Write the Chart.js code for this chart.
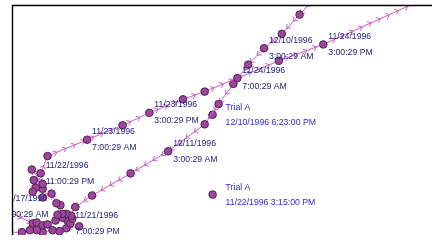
<!DOCTYPE html>
<html>
<head>
<meta charset="utf-8">
<script src="https://cdn.jsdelivr.net/npm/chart.js@4.4.0/dist/chart.umd.min.js"></script>
<style>
  html, body { margin: 0; padding: 0; background: #fff; }
  #wrap { width: 437px; height: 240px; }
</style>
</head>
<body>
<div id="wrap"><canvas id="trackChart"></canvas></div>
<script>
// outbound track (11/17 -> 11/24), plot units
const outX = [-1, 33, 37, 43, 48, 56, 63, 71, 73, 72, 67, 63, 58, 61, 57, 52, 43, 43, 36, 33, 34, 43, 32, 41, 48, 88, 124, 151, 185, 207, 240, 282, 327, 450];
const outY = [211, 228, 227, 230, 229, 225, 222, 228, 223, 220, 218, 218, 219, 209, 207, 197, 201, 192, 191, 195, 183, 187, 172, 176, 158, 141, 126, 113, 99, 91, 77, 59, 42, -15];

// return track (12/10 -> 12/11)
const backX = [321, 303, 285, 267, 251, 236, 221, 207, 170, 132, 93, 76, 68, 80, 67, 60, 53, 43, 37, 30, 22, -20];
const backY = [-9, 11, 31, 46, 63, 83, 104, 125, 153, 176, 199, 211, 225, 231, 233, 236, 235, 237, 235, 235, 237, 238];

// Trial A markers
const trialX = [215, 215];
const trialY = [115, 198];
const trialText = ['12/10/1996 6:23:00 PM', '11/22/1996 3:15:00 PM'];

// time stamps: which track, which point, and the two lines
const stampTrack = [0, 0, 0, 0, 0, 0, 0, 1, 1];
const stampIndex = [0, 7, 23, 25, 27, 30, 32, 3, 8];
const stampDate = ['11/17/1996', '11/21/1996', '11/22/1996', '11/23/1996', '11/23/1996', '11/24/1996', '11/24/1996', '12/10/1996', '12/11/1996'];
const stampTime = ['7:00:29 AM', '7:00:29 PM', '11:00:29 PM', '7:00:29 AM', '3:00:29 PM', '7:00:29 AM', '3:00:29 PM', '3:00:29 AM', '3:00:29 AM'];

function toPoints(xs, ys) {
    return xs.map(function (x, i) { return { x: x, y: ys[i] }; });
}

const lineColor = '#c85fc8';
const dotFill = '#a044a0';
const dotEdge = '#4a264a';

// little arrow heads along each track, pointing the way it travels
const arrowPlugin = {
    id: 'arrows',
    beforeDatasetsDraw(chart) {
        const ctx = chart.ctx;
        const area = chart.chartArea;
        ctx.save();
        ctx.beginPath();
        ctx.rect(area.left, area.top, area.right - area.left, area.bottom - area.top);
        ctx.clip();
        ctx.strokeStyle = lineColor;
        ctx.lineWidth = 1;
        chart.data.datasets.forEach(function (ds, di) {
            if (!ds.arrowGap) return;
            const pts = chart.getDatasetMeta(di).data;
            let pos = ds.arrowGap / 2;
            for (let i = 1; i < pts.length; i++) {
                const x0 = pts[i - 1].x, y0 = pts[i - 1].y;
                const dx = pts[i].x - x0, dy = pts[i].y - y0;
                const len = Math.hypot(dx, dy);
                if (len === 0) continue;
                const ux = dx / len, uy = dy / len;
                while (pos < len) {
                    const tx = x0 + ux * pos, ty = y0 + uy * pos;
                    ctx.beginPath();
                    ctx.moveTo(tx - ux * 3.5 - uy * 2.8, ty - uy * 3.5 + ux * 2.8);
                    ctx.lineTo(tx, ty);
                    ctx.lineTo(tx - ux * 3.5 + uy * 2.8, ty - uy * 3.5 - ux * 2.8);
                    ctx.stroke();
                    pos += ds.arrowGap;
                }
                pos -= len;
            }
        });
        ctx.restore();
    }
};

// frame on the left and top only
const framePlugin = {
    id: 'frame',
    afterDraw(chart) {
        const ctx = chart.ctx;
        const a = chart.chartArea;
        ctx.save();
        ctx.strokeStyle = '#000';
        ctx.lineWidth = 1.4;
        ctx.beginPath();
        ctx.moveTo(a.left + 0.5, a.bottom);
        ctx.lineTo(a.left + 0.5, a.top + 0.5);
        ctx.lineTo(a.right, a.top + 0.5);
        ctx.stroke();
        ctx.restore();
    }
};

// text next to the points
const labelPlugin = {
    id: 'stamps',
    afterDatasetsDraw(chart) {
        const ctx = chart.ctx;
        const area = chart.chartArea;
        ctx.save();
        ctx.beginPath();
        ctx.rect(area.left + 1, area.top, area.right - area.left, area.bottom - area.top);
        ctx.clip();
        ctx.font = '8.7px "Liberation Sans", Arial, sans-serif';
        ctx.textBaseline = 'middle';
        ctx.textAlign = 'left';

        ctx.fillStyle = '#22228a';
        stampDate.forEach(function (d, i) {
            const p = chart.getDatasetMeta(stampTrack[i]).data[stampIndex[i]];
            ctx.fillText(d, p.x + 5, p.y - 8);
            ctx.fillText(stampTime[i], p.x + 5, p.y + 8);
        });

        ctx.fillStyle = '#2a2aee';
        const trialMeta = chart.getDatasetMeta(2);
        trialText.forEach(function (t, i) {
            const p = trialMeta.data[i];
            ctx.fillText('Trial A', p.x + 13, p.y - 7);
            ctx.fillText(t, p.x + 13, p.y + 8);
        });
        ctx.restore();
    }
};

const ctx = document.getElementById('trackChart').getContext('2d');
const trackChart = new Chart(ctx, {
    type: 'scatter',
    data: {
        datasets: [{
            label: 'Outbound',
            data: toPoints(outX, outY),
            showLine: true,
            borderColor: lineColor,
            borderWidth: 1,
            pointRadius: 3.8,
            pointBackgroundColor: dotFill,
            pointBorderColor: dotEdge,
            pointBorderWidth: 1,
            clip: 0,
            arrowGap: 10
        }, {
            label: 'Return',
            data: toPoints(backX, backY),
            showLine: true,
            borderColor: lineColor,
            borderWidth: 1,
            pointRadius: 3.8,
            pointBackgroundColor: dotFill,
            pointBorderColor: dotEdge,
            pointBorderWidth: 1,
            clip: 0,
            arrowGap: 10
        }, {
            label: 'Trial A',
            data: toPoints(trialX, trialY),
            showLine: false,
            pointRadius: 3.8,
            pointBackgroundColor: dotFill,
            pointBorderColor: dotEdge,
            pointBorderWidth: 1,
            clip: 0
        }]
    },
    options: {
        responsive: true,
        maintainAspectRatio: false,
        animation: false,
        layout: { padding: { left: 12, top: 1, right: 0, bottom: 0 } },
        plugins: {
            legend: { display: false },
            tooltip: { enabled: false }
        },
        scales: {
            x: { type: 'linear', display: false, min: 12, max: 437 },
            y: { type: 'linear', display: false, min: 1, max: 240, reverse: true }
        }
    },
    plugins: [arrowPlugin, labelPlugin, framePlugin]
});
</script>
</body>
</html>
